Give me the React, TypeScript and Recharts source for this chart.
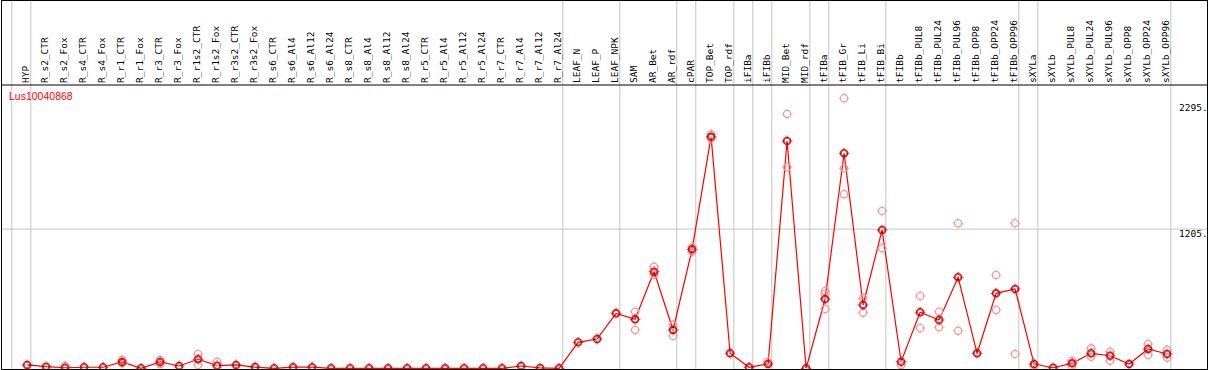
import { LineChart, Line, XAxis, YAxis, ReferenceLine } from "recharts";

const categories = [
  "HYP",
  "R_s2_CTR", "R_s2_Fox", "R_s4_CTR", "R_s4_Fox", "R_r1_CTR", "R_r1_Fox",
  "R_r3_CTR", "R_r3_Fox", "R_r1s2_CTR", "R_r1s2_Fox", "R_r3s2_CTR", "R_r3s2_Fox",
  "R_s6_CTR", "R_s6_Al4", "R_s6_Al12", "R_s6_Al24",
  "R_s8_CTR", "R_s8_Al4", "R_s8_Al12", "R_s8_Al24",
  "R_r5_CTR", "R_r5_Al4", "R_r5_Al12", "R_r5_Al24",
  "R_r7_CTR", "R_r7_Al4", "R_r7_Al12", "R_r7_Al24",
  "LEAF_N", "LEAF_P", "LEAF_NPK",
  "SAM", "AR_Bet", "AR_rdf", "cPAR", "TOP_Bet", "TOP_rdf", "iFIBa", "iFIBb",
  "MID_Bet", "MID_rdf", "tFIBa", "tFIB_Gr", "tFIB_Li", "tFIB_Bi",
  "tFIBb", "tFIBb_PUL8", "tFIBb_PUL24", "tFIBb_PUL96", "tFIBb_OPP8", "tFIBb_OPP24", "tFIBb_OPP96",
  "sXYLa", "sXYLb", "sXYLb_PUL8", "sXYLb_PUL24", "sXYLb_PUL96", "sXYLb_OPP8", "sXYLb_OPP24", "sXYLb_OPP96",
];

// mean expression per sample
const meanValues = [
  29,
  14, 5, 9, 9, 55, 0, 55, 20, 78, 23, 29, 11,
  0, 10, 10, 0, 0, 0, 0, 0, 0, 0, 0, 0, 0, 20, 3, 0,
  225, 254, 476,
  424, 837, 332, 1030, 2006, 130, 9, 37,
  1968, 0, 600, 1862, 548, 1198,
  57, 485, 418, 788, 130, 649, 687,
  37, 5, 43, 130, 109, 37, 167, 124,
];

// replicates (null = hidden under the mean marker)
const rep1 = [
  null,
  null, 22, null, null, 72, null, 72, null, 124, 57, null, null,
  null, null, null, null, null, null, null, null, null, null, null, null, null, null, null, null,
  null, null, null,
  490, 880, 375, 1048, 2026, null, null, 57,
  2202, null, 669, 2338, 606, 1362,
  29, 626, 490, 1256, null, 808, 1256,
  23, null, 66, 173, 144, null, 210, 158,
];
const rep2 = [
  null,
  null, null, null, null, 43, null, 35, null, 29, null, null, null,
  null, null, null, null, null, null, null, null, null, null, null, null, null, null, null, null,
  null, null, null,
  332, 808, 280, 1010, 1992, null, null, null,
  1741, null, 643, 1732, 482, 1039,
  null, 349, 355, 326, null, 505, 124,
  null, null, 20, 100, 66, null, 115, 92,
];
const rep3 = [
  null,
  null, null, null, null, null, null, null, null, null, null, null, null,
  null, null, null, null, null, null, null, null, null, null, null, null, null, null, null, null,
  null, null, null,
  null, null, null, null, null, null, null, null,
  null, null, 513, 1507, null, null,
  null, null, null, null, null, null, null,
  null, null, null, null, null, null, null, null,
];

// group separators sit just after these sample indices
const separatorAfter = [-1, 0, 28, 31, 34, 35, 37, 38, 39, 41, 42, 45, 52, 53, 60];
const yTicks = [0, 1205, 2295];

const chartData = categories.map((name, i) => ({
  idx: i,
  name,
  mean: meanValues[i],
  r1: rep1[i],
  r2: rep2[i],
  r3: rep3[i],
}));

const MONO = "'DejaVu Sans Mono', monospace";

const CatTick = (props: any) => {
  const { x, payload } = props;
  const bx = x + 2;
  const by = 83;
  return (
    <text
      x={bx}
      y={by}
      transform={`rotate(-90, ${bx}, ${by})`}
      textAnchor="start"
      fontSize={9.5}
      fontFamily={MONO}
      fill="#000"
    >
      {categories[payload.value]}
    </text>
  );
};

const ValTick = (props: any) => {
  const { y, payload } = props;
  const v = payload.value;
  return (
    <text
      x={1179}
      y={v === 0 ? y - 3 : y + 7.5}
      textAnchor="start"
      fontSize={9.5}
      fontFamily={MONO}
      fill="#000"
    >
      {v === 0 ? "0" : `${v}.`}
    </text>
  );
};

const marker = (cx: number, cy: number, color: string, key: any, inner?: string) => (
  <g key={key}>
    <circle cx={cx} cy={cy} r={3.6} fill="none" stroke={color} strokeWidth={1.3} />
    <line x1={cx} x2={cx} y1={cy - 5.3} y2={cy - 4.2} stroke={color} />
    <line x1={cx} x2={cx} y1={cy + 4.2} y2={cy + 5.3} stroke={color} />
    <line x1={cx - 5.3} x2={cx - 4.2} y1={cy} y2={cy} stroke={color} />
    <line x1={cx + 4.2} x2={cx + 5.3} y1={cy} y2={cy} stroke={color} />
    {inner && <circle cx={cx} cy={cy} r={2.7} fill="none" stroke={inner} strokeWidth={0.5} />}
  </g>
);

const FaintDot = (props: any) => {
  const { cx, cy, value, index } = props;
  if (value == null || cy == null || isNaN(cy)) return <g key={`f-${index}`} />;
  return marker(cx, cy, "#f09a9a", `f-${index}`);
};

const MainDot = (props: any) => {
  const { cx, cy, index } = props;
  return marker(cx, cy, "#ff0000", `m-${index}`, "#000");
};

export default function App() {
  return (
    <div style={{ position: "absolute", left: 0, top: 0, width: 1209, height: 370, background: "#fff" }}>
      <LineChart
        width={1209}
        height={370}
        data={chartData}
        margin={{ top: 0, right: 2, bottom: 1, left: 2 }}
      >
        <XAxis
          type="number"
          dataKey="idx"
          orientation="top"
          height={85}
          domain={[-1.32, 62.1]}
          allowDataOverflow
          ticks={categories.map((_, i) => i)}
          interval={0}
          tickLine={false}
          axisLine={{ stroke: "#000" }}
          tick={<CatTick />}
        />
        <YAxis
          type="number"
          orientation="right"
          mirror
          domain={[-6, 2453]}
          allowDataOverflow
          ticks={yTicks}
          axisLine={false}
          tickLine={false}
          tick={<ValTick />}
        />
        {separatorAfter.map((i) => (
          <ReferenceLine
            key={`sep-${i}`}
            x={i + 0.195}
            stroke="#c4c4c4"
            shape={(p: any) => (
              <line x1={p.x1} x2={p.x2} y1={0} y2={p.y2} stroke="#c4c4c4" strokeWidth={1} />
            )}
          />
        ))}
        <ReferenceLine y={1205} stroke="#c4c4c4" />
        <Line dataKey="r1" stroke="none" dot={FaintDot} activeDot={false} isAnimationActive={false} />
        <Line dataKey="r2" stroke="none" dot={FaintDot} activeDot={false} isAnimationActive={false} />
        <Line dataKey="r3" stroke="none" dot={FaintDot} activeDot={false} isAnimationActive={false} />
        <Line
          dataKey="mean"
          stroke="#ff0000"
          strokeWidth={1.2}
          dot={MainDot}
          activeDot={false}
          isAnimationActive={false}
        />
      </LineChart>
      <div
        style={{
          position: "absolute",
          left: 9,
          top: 90,
          color: "#ff0000",
          fontFamily: "'Liberation Sans', Arial, sans-serif",
          fontSize: 10.5,
          lineHeight: "12px",
        }}
      >
        Lus10040868
      </div>
      <div
        style={{
          position: "absolute",
          left: 1,
          top: 0,
          width: 1207,
          height: 370,
          boxSizing: "border-box",
          border: "1px solid #000",
          pointerEvents: "none",
        }}
      />
    </div>
  );
}
